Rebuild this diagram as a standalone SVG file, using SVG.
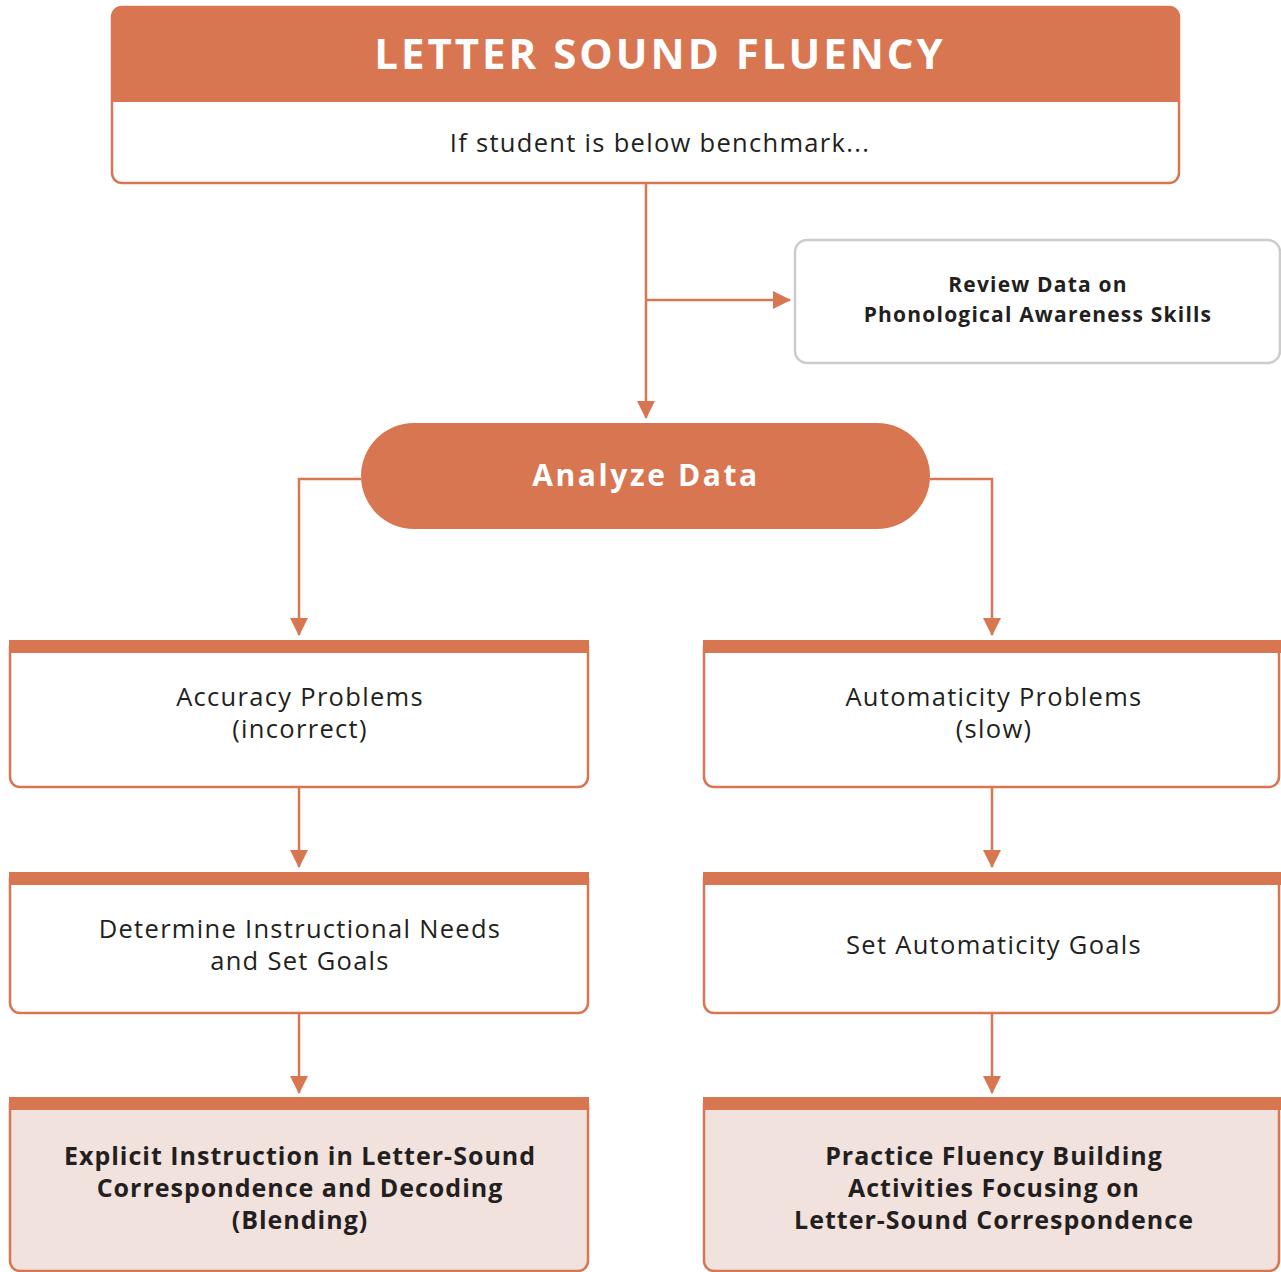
<svg xmlns="http://www.w3.org/2000/svg" width="1281" height="1272" viewBox="0 0 1281 1272">
<defs>
<marker id="arr" markerUnits="userSpaceOnUse" markerWidth="18" markerHeight="18" viewBox="0 0 18 18" refX="17" refY="9" orient="auto">
<path d="M0,0 L18,9 L0,18 Z" fill="#d97652"/>
</marker>
<style>
.ln{fill:none;stroke:#d97652;stroke-width:2.5}
.box{fill:#fff;stroke:#d97652;stroke-width:2.5}
.pink{fill:#f2e2de;stroke:#d97652;stroke-width:2.5}
.band{fill:#d97652}
.t{font-family:"Open Sans","Noto Sans",sans-serif;fill:#231f20;text-anchor:middle}
.n{font-size:25.5px;letter-spacing:1.3px}
.b{font-weight:bold}
.bb{font-weight:bold;font-size:25px;letter-spacing:1px}
</style>
</defs>
<g id="connectors">
<path class="ln" d="M646,184 V418" marker-end="url(#arr)"/>
<path class="ln" d="M646,300 H790" marker-end="url(#arr)"/>
<path class="ln" d="M361,479 H299 V635" marker-end="url(#arr)"/>
<path class="ln" d="M930,479 H992 V635" marker-end="url(#arr)"/>
<path class="ln" d="M299,787 V867" marker-end="url(#arr)"/>
<path class="ln" d="M992,787 V867" marker-end="url(#arr)"/>
<path class="ln" d="M299,1013 V1093" marker-end="url(#arr)"/>
<path class="ln" d="M992,1013 V1093" marker-end="url(#arr)"/>
</g>
<g id="title">
<rect class="box" x="112" y="7" width="1067" height="176" rx="10"/>
<path class="band" d="M112,102 V17 A10,10 0 0 1 122,7 H1169 A10,10 0 0 1 1179,17 V102 Z"/>
<text class="t b" x="660" y="69" font-size="42" style="fill:#fff;letter-spacing:3px">LETTER SOUND FLUENCY</text>
<text class="t n" x="660" y="152">If student is below benchmark...</text>
</g>
<g id="review">
<rect x="795" y="240" width="485" height="123" rx="12" fill="#fff" stroke="#cccccc" stroke-width="2.5"/>
<text class="t b" x="1038" y="292" font-size="21" style="letter-spacing:1.2px">Review Data on</text>
<text class="t b" x="1038" y="322" font-size="21" style="letter-spacing:1.2px">Phonological Awareness Skills</text>
</g>
<g id="analyze">
<rect x="361" y="423" width="569" height="106" rx="53" fill="#d97652"/>
<text class="t b" x="646" y="486" font-size="30" style="fill:#fff;letter-spacing:2.6px">Analyze Data</text>
</g>
<g id="accuracy">
<path class="box" d="M10,646 V777 A10,10 0 0 0 20,787 H578 A10,10 0 0 0 588,777 V646"/>
<rect class="band" x="9" y="640" width="580" height="13"/>
<text class="t n" x="300" y="706">Accuracy Problems</text>
<text class="t n" x="300" y="738">(incorrect)</text>
</g>
<g id="automaticity">
<path class="box" d="M704,646 V777 A10,10 0 0 0 714,787 H1269 A10,10 0 0 0 1279,777 V646"/>
<rect class="band" x="703" y="640" width="578" height="13"/>
<text class="t n" x="994" y="706">Automaticity Problems</text>
<text class="t n" x="994" y="738">(slow)</text>
</g>
<g id="determine">
<path class="box" d="M10,878 V1003 A10,10 0 0 0 20,1013 H578 A10,10 0 0 0 588,1003 V878"/>
<rect class="band" x="9" y="872" width="580" height="13"/>
<text class="t n" x="300" y="938">Determine Instructional Needs</text>
<text class="t n" x="300" y="970">and Set Goals</text>
</g>
<g id="setgoals">
<path class="box" d="M704,878 V1003 A10,10 0 0 0 714,1013 H1269 A10,10 0 0 0 1279,1003 V878"/>
<rect class="band" x="703" y="872" width="578" height="13"/>
<text class="t n" x="994" y="954">Set Automaticity Goals</text>
</g>
<g id="explicit">
<path class="pink" d="M10,1103 V1261 A10,10 0 0 0 20,1271 H578 A10,10 0 0 0 588,1261 V1103"/>
<rect class="band" x="9" y="1097" width="580" height="13"/>
<text class="t bb" x="300" y="1165">Explicit Instruction in Letter-Sound</text>
<text class="t bb" x="300" y="1197">Correspondence and Decoding</text>
<text class="t bb" x="300" y="1229">(Blending)</text>
</g>
<g id="practice">
<path class="pink" d="M704,1103 V1261 A10,10 0 0 0 714,1271 H1269 A10,10 0 0 0 1279,1261 V1103"/>
<rect class="band" x="703" y="1097" width="578" height="13"/>
<text class="t bb" x="994" y="1165">Practice Fluency Building</text>
<text class="t bb" x="994" y="1197">Activities Focusing on</text>
<text class="t bb" x="994" y="1229">Letter-Sound Correspondence</text>
</g>
</svg>
